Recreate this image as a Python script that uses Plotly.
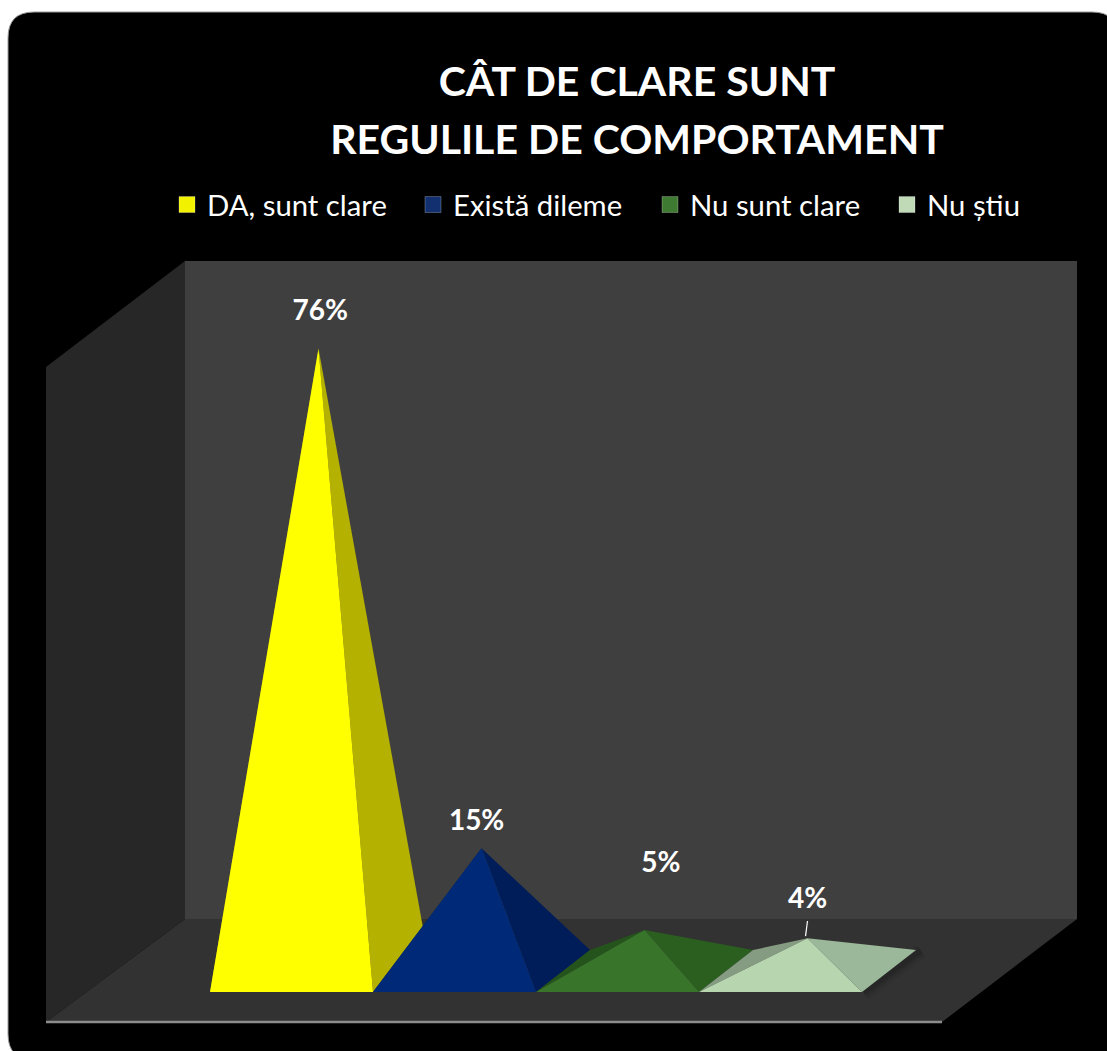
import plotly.graph_objects as go

W, H = 1107, 1051
categories = ["DA, sunt clare", "Există dileme", "Nu sunt clare", "Nu știu"]
values = [76, 15, 5, 4]
labels = ["76%", "15%", "5%", "4%"]
front_colors = ["#ffff00", "#002a78", "#38752b", "#b7d5af"]
side_colors = ["#b5b100", "#001d5a", "#2b5f20", "#9cb89a"]
left_colors = ["#8f8c00", "#00174a", "#24541b", "#869c82"]
legend_colors = ["#f2f200", "#12306f", "#3f7a32", "#c0dab8"]
title_lines = ["CÂT DE CLARE SUNT", "REGULILE DE COMPORTAMENT"]

# data-space <-> pixel scale of the chart box
PX_PER_CAT = 163.0
PX_PER_PCT = 8.19
X0_PX, Y0_PX = 210.0, 971.0
DEPTH_X = 54.0 / PX_PER_CAT   # horizontal depth of a pyramid base, in category units
DEPTH_Y = 42.0 / PX_PER_PCT   # vertical depth of a pyramid base, in percent units
FRONT = -DEPTH_Y / 2
BACK = DEPTH_Y / 2

x_range = [(0 - X0_PX) / PX_PER_CAT, (W - X0_PX) / PX_PER_CAT]
y_range = [(Y0_PX - H) / PX_PER_PCT, Y0_PX / PX_PER_PCT]

# manual label offsets from the apex (category units, percent units)
label_dx = [0.01, -0.03, 0.10, 0.0]
label_dy = [4.35, 3.05, 8.0, 4.5]

# left edge (px) of each legend entry
legend_left_px = [167, 413, 650, 887]


def p(x, y):
    return f"{x / W:.5f},{1 - y / H:.5f}"


def poly(points, fill, **kw):
    path = "M" + " L".join(f"{x / W:.5f},{1 - y / H:.5f}" for x, y in points) + " Z"
    return dict(type="path", path=path, xref="paper", yref="paper", fillcolor=fill,
                line=dict(width=0), layer="below", **kw)


def rounded(x0, y0, x1, y1, r):
    return ("M%s L%s Q%s %s L%s Q%s %s L%s Q%s %s L%s Q%s %s Z" % (
        p(x0 + r, y0), p(x1 - r, y0), p(x1, y0), p(x1, y0 + r), p(x1, y1 - r),
        p(x1, y1), p(x1 - r, y1), p(x0 + r, y1), p(x0, y1), p(x0, y1 - r),
        p(x0, y0 + r), p(x0, y0), p(x0 + r, y0)))


shapes = [
    dict(type="path", path=rounded(8, 12, 1118, 1060, 26), xref="paper", yref="paper",
         fillcolor="#000000", line=dict(color="#9a9a9a", width=1), layer="below"),
    poly([(185, 261), (1077, 261), (1077, 919), (185, 919)], "#3f3f3f"),
    poly([(46, 367), (185, 261), (185, 919), (46, 1022)], "#272727"),
    poly([(46, 1022), (185, 919), (1077, 919), (942, 1022)], "#323232"),
    dict(type="line", xref="paper", yref="paper", x0=46 / W, x1=942 / W,
         y0=1 - 1022 / H, y1=1 - 1022 / H, line=dict(color="#8c8c8c", width=2.5), layer="below"),
]

fig = go.Figure()


def face(xs, ys, color):
    fig.add_trace(go.Scatter(x=xs, y=ys, mode="lines", fill="toself", fillcolor=color,
                             line=dict(width=0, color=color), hoverinfo="skip", showlegend=False))


# soft shadow along the last pyramid's base
last = len(values)
for width, alpha in [(16, 0.06), (10, 0.08), (5, 0.10)]:
    fig.add_trace(go.Scatter(x=[last + 0.01, last + DEPTH_X + 0.03],
                             y=[FRONT - 0.1, BACK - 0.1], mode="lines",
                             line=dict(color=f"rgba(0,0,0,{alpha})", width=width),
                             hoverinfo="skip", showlegend=False))

for i, v in enumerate(values):
    left, right = float(i), float(i + 1)
    ax = i + 0.5 + DEPTH_X / 2
    face([left, left + DEPTH_X, ax], [FRONT, BACK, v], left_colors[i])
    face([right, right + DEPTH_X, ax], [FRONT, BACK, v], side_colors[i])
    face([left, right, ax], [FRONT, FRONT, v], front_colors[i])

# leader line of the last label
fig.add_trace(go.Scatter(x=[3.5 + DEPTH_X / 2 - 0.012, 3.5 + DEPTH_X / 2],
                         y=[values[3] + 0.25, values[3] + 2.1], mode="lines",
                         line=dict(color="#ffffff", width=1.2), hoverinfo="skip", showlegend=False))

# data labels
fig.add_trace(go.Scatter(
    x=[i + 0.5 + DEPTH_X / 2 + dx for i, dx in enumerate(label_dx)],
    y=[v + dy for v, dy in zip(values, label_dy)],
    mode="text", text=labels, textposition="middle center",
    textfont=dict(family="Lato", size=28, color="#ffffff", weight="bold"),
    hoverinfo="skip", showlegend=False))

# legend entries: one legend per entry so each can sit at its own position
legend_layouts = {}
for i, (name, color, left_px) in enumerate(zip(categories, legend_colors, legend_left_px)):
    key = "legend" if i == 0 else f"legend{i + 1}"
    fig.add_trace(go.Scatter(x=[None], y=[None], mode="markers", name=name, legend=key,
                             showlegend=True,
                             marker=dict(symbol="square", size=16, color=color,
                                         line=dict(width=1, color="rgba(255,255,255,0.25)"))))
    legend_layouts[key] = dict(orientation="h", x=left_px / W, xanchor="left",
                               y=1 - 205 / H, yanchor="middle",
                               font=dict(family="Lato", size=29.3, color="#ffffff"),
                               bgcolor="rgba(0,0,0,0)", itemclick=False, itemdoubleclick=False)

title_text = "<br>".join(f"<span style='font-size:41px'>{t}</span>" for t in title_lines)

fig.update_layout(
    width=W, height=H, margin=dict(l=0, r=0, t=0, b=0, autoexpand=False),
    paper_bgcolor="#ffffff", plot_bgcolor="rgba(0,0,0,0)",
    shapes=shapes,
    xaxis=dict(range=x_range, visible=False, fixedrange=True),
    yaxis=dict(range=y_range, visible=False, fixedrange=True),
    font=dict(family="Lato", color="#ffffff"),
    title=dict(text=title_text, x=637 / W, xanchor="center",
               y=1 - 96 / H, yanchor="middle",
               font=dict(family="Lato", size=44.6, color="#ffffff", weight="bold")),
    **legend_layouts,
)

fig.write_html("out.html", config=dict(displayModeBar=False),
               post_script="document.body.style.margin='0';document.body.style.overflow='hidden';")
